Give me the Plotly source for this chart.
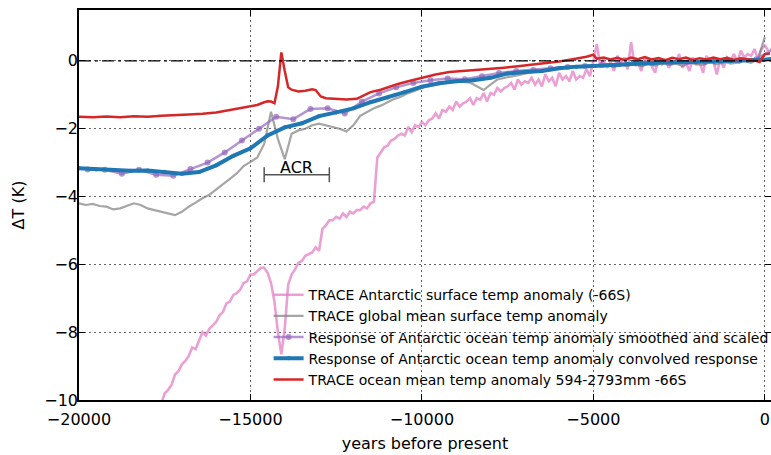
import plotly.graph_objects as go

# ---------------- data ----------------
# TRACE Antarctic surface temp anomaly (-66S), every 100 years from -17800
pink_start, pink_step = -17800, 100
pink_vals = [
    -10.45, -10.1, -10.1, -9.8, -9.7, -9.55, -9.25, -9.15, -8.95, -8.85,
    -8.7, -8.45, -8.5, -8.25, -8.0, -8.1, -7.9, -7.8, -7.7, -7.5,
    -7.4, -7.15, -7.1, -6.9, -6.85, -6.75, -6.55, -6.5, -6.3, -6.3,
    -6.2, -6.1, -6.1, -6.25, -6.55, -7.1, -8.0, -8.65, -7.9, -6.6,
    -6.3, -6.15, -5.95, -5.9, -5.75, -5.7, -5.65, -5.5, -5.6, -4.95,
    -4.85, -4.7, -4.7, -4.6, -4.65, -4.5, -4.6, -4.45, -4.5, -4.4,
    -4.4, -4.3, -4.35, -4.2, -4.15, -2.85, -2.7, -2.55, -2.5, -2.35,
    -2.3, -2.2, -2.15, -2.2, -1.95, -2.1, -1.9, -1.95, -1.8, -1.9,
    -1.75, -1.7, -1.55, -1.7, -1.45, -1.5, -1.35, -1.45, -1.2, -1.35,
    -1.25, -1.2, -1.1, -1.3, -1.1, -1.15, -0.95, -1.2, -0.95, -1.0,
    -0.8, -0.9, -0.8, -0.75, -0.65, -0.85, -0.55, -0.7, -0.6, -0.65,
    -0.5, -0.7, -0.55, -0.75, -0.4, -0.6, -0.5, -0.75, -0.35, -0.55,
    -0.45, -0.6, -0.3, -0.55, -0.45, -0.5, -0.25, -0.45, 0.0, 0.5,
    -0.15, 0.05, -0.2, -0.05, -0.3, 0.15, -0.1, 0.1, -0.25, 0.55,
    -0.1, -0.05, -0.3, 0.1, 0.0, -0.15, -0.35, 0.05, -0.1, 0.05,
    -0.2, 0.0, -0.05, 0.2, -0.2, -0.05, -0.3, 0.1, -0.1, -0.05,
    -0.35, 0.15, -0.05, 0.0, -0.4, 0.05, -0.2, 0.1, 0.0, 0.2,
    -0.05, 0.3, 0.1, 0.2, 0.15, 0.35, 0.05, 0.35, 0.45, 0.3,
]
pink_years = [pink_start + i * pink_step for i in range(len(pink_vals))]

# TRACE global mean surface temp anomaly, every 200 years from -20000
gray_start, gray_step = -20000, 200
gray_vals = [
    -4.2, -4.25, -4.22, -4.28, -4.3, -4.38, -4.35, -4.28, -4.2, -4.25,
    -4.35, -4.4, -4.45, -4.5, -4.55, -4.45, -4.3, -4.18, -4.05, -3.95,
    -3.8, -3.65, -3.48, -3.32, -3.1, -2.98, -2.85, -2.45, -1.5, -2.3,
    -2.9, -2.15, -2.05, -2.0, -1.9, -1.85, -1.9, -1.95, -2.0, -2.08,
    -1.9, -1.62, -1.5, -1.4, -1.32, -1.22, -1.12, -1.05, -0.95, -0.88,
    -0.8, -0.75, -0.7, -0.66, -0.62, -0.6, -0.62, -0.64, -0.75, -0.86,
    -0.7, -0.55, -0.5, -0.45, -0.42, -0.38, -0.35, -0.3, -0.26, -0.22,
    -0.2, -0.2, -0.18, -0.17, -0.18, -0.12, -0.15, -0.1, -0.18, -0.12,
    -0.15, -0.08, -0.16, -0.1, -0.14, -0.06, -0.12, -0.08, -0.15, -0.05,
    -0.1, -0.12, -0.04, -0.1, -0.02, -0.08, -0.05, 0.0, -0.06, 0.05,
    0.7,
]
gray_years = [gray_start + i * gray_step for i in range(len(gray_vals))]

# Response of Antarctic ocean temp anomaly smoothed and scaled (every 500 yr)
purple_years = [
    -19750, -19250, -18750, -18250, -17750, -17250, -16750, -16250, -15750,
    -15250, -14750, -14250, -13750, -13250, -12750, -12250, -11750, -11250,
    -10750, -10250, -9750, -9250, -8750, -8250, -7750, -7250, -6750, -6250,
    -5750, -5250, -4750, -4250, -3750, -3250, -2750, -2250, -1750, -1250,
    -750, -250, 250,
]
purple_vals = [
    -3.2, -3.21, -3.33, -3.21, -3.36, -3.39, -3.19, -3.0, -2.7,
    -2.35, -2.0, -1.65, -1.72, -1.42, -1.4, -1.55, -1.2, -0.96,
    -0.78, -0.65, -0.57, -0.52, -0.54, -0.45, -0.36, -0.3, -0.27, -0.22,
    -0.18, -0.15, -0.12, -0.1, -0.08, -0.06, -0.05, -0.04, -0.03, -0.02,
    0.0, 0.05, 0.35,
]

# Response of Antarctic ocean temp anomaly convolved response
blue_years = [
    -20000, -19500, -19000, -18500, -18000, -17500, -17000, -16500, -16000,
    -15500, -15000, -14500, -14000, -13500, -13000, -12500, -12000, -11500,
    -11000, -10500, -10000, -9500, -9000, -8500, -8000, -7500, -7000, -6500,
    -6000, -5500, -5000, -4500, -4000, -3500, -3000, -2500, -2000, -1500,
    -1000, -500, 0, 200,
]
blue_vals = [
    -3.17, -3.2, -3.22, -3.24, -3.23, -3.27, -3.33, -3.28, -3.08,
    -2.8, -2.58, -2.2, -1.96, -1.84, -1.63, -1.52, -1.4, -1.22,
    -1.08, -0.92, -0.76, -0.66, -0.6, -0.57, -0.5, -0.37, -0.33, -0.3,
    -0.22, -0.17, -0.15, -0.12, -0.09, -0.07, -0.05, -0.04, -0.03, -0.02,
    -0.01, 0.0, 0.03, 0.06,
]

# TRACE ocean mean temp anomaly 594-2793mm -66S
red_years = [
    -20000, -19600, -19200, -18800, -18400, -18000, -17600, -17200, -16800,
    -16400, -16000, -15600, -15200, -15000, -14800, -14600, -14500, -14400,
    -14300, -14200, -14100, -14000, -13900, -13800, -13600, -13400, -13200,
    -13100, -12950, -12800, -12500, -12200, -11900, -11700, -11500, -11200,
    -11000, -10700, -10400, -10000, -9600, -9200, -8800, -8400, -8000,
    -7600, -7200, -6800, -6400, -6000, -5600, -5200, -5000, -4900, -4700,
    -4500, -4300, -4100, -3900, -3700, -3500, -3300, -3100, -2900, -2700,
    -2500, -2300, -2100, -1900, -1700, -1500, -1300, -1100, -900, -700,
    -500, -300, -150, 0, 150,
]
red_vals = [
    -1.65, -1.66, -1.64, -1.66, -1.63, -1.65, -1.62, -1.61, -1.58,
    -1.56, -1.52, -1.45, -1.38, -1.33, -1.3, -1.22, -1.19, -1.2,
    -1.25, -0.75, 0.25, -0.3, -0.78, -0.85, -0.9, -0.88, -0.84,
    -0.86, -1.05, -1.1, -1.12, -1.14, -1.12, -1.02, -0.92, -0.85,
    -0.78, -0.68, -0.6, -0.5, -0.4, -0.33, -0.3, -0.28, -0.24,
    -0.2, -0.16, -0.12, -0.08, -0.02, 0.05, 0.12, 0.18, 0.06, 0.1,
    0.04, 0.09, 0.03, 0.1, 0.05, 0.11, 0.04, 0.08, 0.02, 0.09,
    0.05, 0.1, 0.03, 0.08, 0.04, 0.1, 0.05, 0.09, 0.03, 0.08,
    0.05, 0.02, -0.03, 0.2, 0.22,
]

ACR_START, ACR_END = -14600, -12700

# ---------------- figure ----------------
FONT = "DejaVu Sans"
fig = go.Figure()

fig.add_trace(go.Scatter(x=pink_years, y=pink_vals, mode="lines",
                         name="TRACE Antarctic surface temp anomaly (-66S)",
                         line=dict(color="rgba(227,119,194,0.7)", width=2.6)))
fig.add_trace(go.Scatter(x=gray_years, y=gray_vals, mode="lines",
                         name="TRACE global mean surface temp anomaly",
                         line=dict(color="rgba(127,127,127,0.7)", width=2.2)))
fig.add_trace(go.Scatter(x=purple_years, y=purple_vals, mode="lines+markers",
                         name="Response of Antarctic ocean temp anomaly smoothed and scaled",
                         line=dict(color="rgba(148,103,189,0.7)", width=2.5),
                         marker=dict(size=6, color="rgba(148,103,189,0.7)")))
fig.add_trace(go.Scatter(x=blue_years, y=blue_vals, mode="lines+markers",
                         name="Response of Antarctic ocean temp anomaly convolved response",
                         line=dict(color="#1f77b4", width=4),
                         marker=dict(size=4, color="#1f77b4")))
fig.add_trace(go.Scatter(x=red_years, y=red_vals, mode="lines",
                         name="TRACE ocean mean temp anomaly 594-2793mm -66S",
                         line=dict(color="#d62728", width=2.5)))

# zero reference line
fig.add_shape(type="line", xref="paper", x0=0, x1=1, yref="y", y0=0, y1=0,
              line=dict(color="black", width=1.3, dash="12px,4px,3px,4px"),
              layer="above")

# ACR bracket
acr_y, cap = -3.36, 0.22
bc = "#555555"
fig.add_shape(type="line", x0=ACR_START, x1=ACR_END, y0=acr_y, y1=acr_y,
              line=dict(color=bc, width=1.5))
fig.add_shape(type="line", x0=ACR_START, x1=ACR_START, y0=acr_y - cap, y1=acr_y + cap,
              line=dict(color=bc, width=1.5))
fig.add_shape(type="line", x0=ACR_END, x1=ACR_END, y0=acr_y - cap, y1=acr_y + cap,
              line=dict(color=bc, width=1.5))
fig.add_annotation(x=(ACR_START + ACR_END) / 2, y=acr_y, text="ACR", showarrow=False,
                   yanchor="bottom", yshift=-4,
                   font=dict(family=FONT, size=16, color="black"))

axis_common = dict(
    showline=True, linecolor="black", linewidth=1.5, mirror="ticks",
    ticks="inside", ticklen=6, tickcolor="black",
    showgrid=True, gridcolor="#666666", gridwidth=1, griddash="2px,3px",
    zeroline=False, automargin=False,
    tickfont=dict(family=FONT, size=16, color="black"),
)

fig.update_xaxes(range=[-20000, 180], tick0=-20000, dtick=5000, tickformat="d",
                 ticklabelstandoff=4,
                 title=dict(text="years before present",
                            font=dict(family=FONT, size=16, color="black"), standoff=10),
                 **axis_common)
fig.update_yaxes(range=[-10, 1.5], tick0=0, dtick=2, tickformat="d",
                 ticklabelstandoff=-4,
                 title=dict(text="ΔT (K)",
                            font=dict(family=FONT, size=16, color="black"), standoff=16),
                 **axis_common)

fig.update_layout(
    width=771, height=455,
    margin=dict(l=79, r=0, t=10, b=55, autoexpand=False),
    paper_bgcolor="white", plot_bgcolor="white",
    font=dict(family=FONT, size=14, color="black"),
    legend=dict(x=0.274, y=0.31, xanchor="left", yanchor="top",
                bgcolor="rgba(0,0,0,0)", borderwidth=0,
                font=dict(family=FONT, size=14, color="black")),
)

fig.write_html("out.html", config={"displayModeBar": False},
               post_script="document.body.style.margin='0';document.body.style.overflow='hidden';")
